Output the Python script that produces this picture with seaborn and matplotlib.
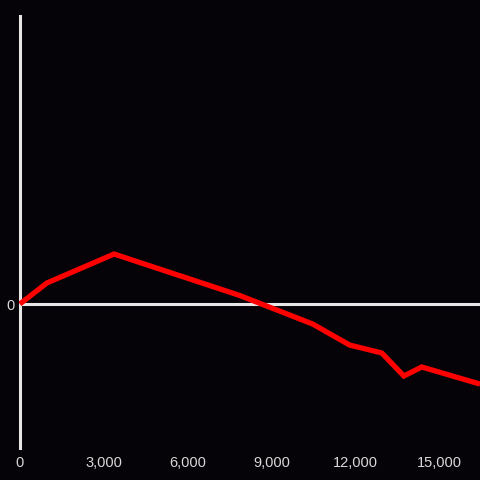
import matplotlib
matplotlib.use("Agg")
import matplotlib.pyplot as plt
import seaborn as sns
import pandas as pd
from matplotlib.ticker import FuncFormatter

x_values = [0, 968, 3369, 7850, 10470, 11790, 12940, 13730, 14370, 16452]
y_values = [0.0, 0.146, 0.347, 0.06, -0.139, -0.285, -0.340, -0.500, -0.4375, -0.556]
x_ticks = [0, 3000, 6000, 9000, 12000, 15000]
y_ticks = [0]

df = pd.DataFrame({"x": x_values, "y": y_values})

sns.set_style("dark")
plt.rcParams["font.family"] = ["Liberation Sans", "DejaVu Sans"]

bg = "#050307"
fig = plt.figure(figsize=(4.8, 4.8), dpi=100, facecolor=bg)
ax = fig.add_axes([19/480, 32/480, 461/480, 432/480])
ax.set_facecolor(bg)

sns.lineplot(data=df, x="x", y="y", ax=ax, color="#ff0000", linewidth=3.8,
             solid_capstyle="butt", solid_joinstyle="miter", zorder=3)

ax.axhline(0, color="#e6e6e6", linewidth=2.2, zorder=2)

ax.set_xlim(-30, 16452)
ax.set_ylim(-1, 2)
ax.set_xticks(x_ticks)
ax.set_yticks(y_ticks)
ax.xaxis.set_major_formatter(FuncFormatter(lambda v, p: f"{int(v):,}"))
ax.tick_params(axis="both", colors="#d9d9d9", labelsize=10.5, length=0, pad=4)
ax.tick_params(axis="x", pad=6)
ax.grid(False)
ax.set_xlabel("")
ax.set_ylabel("")
for side in ["top", "right", "bottom"]:
    ax.spines[side].set_visible(False)
ax.spines["left"].set_color("#e6e6e6")
ax.spines["left"].set_linewidth(2.2)
ax.spines["left"].set_position(("data", 0))

fig.savefig("out.png", dpi=100, facecolor=bg)
